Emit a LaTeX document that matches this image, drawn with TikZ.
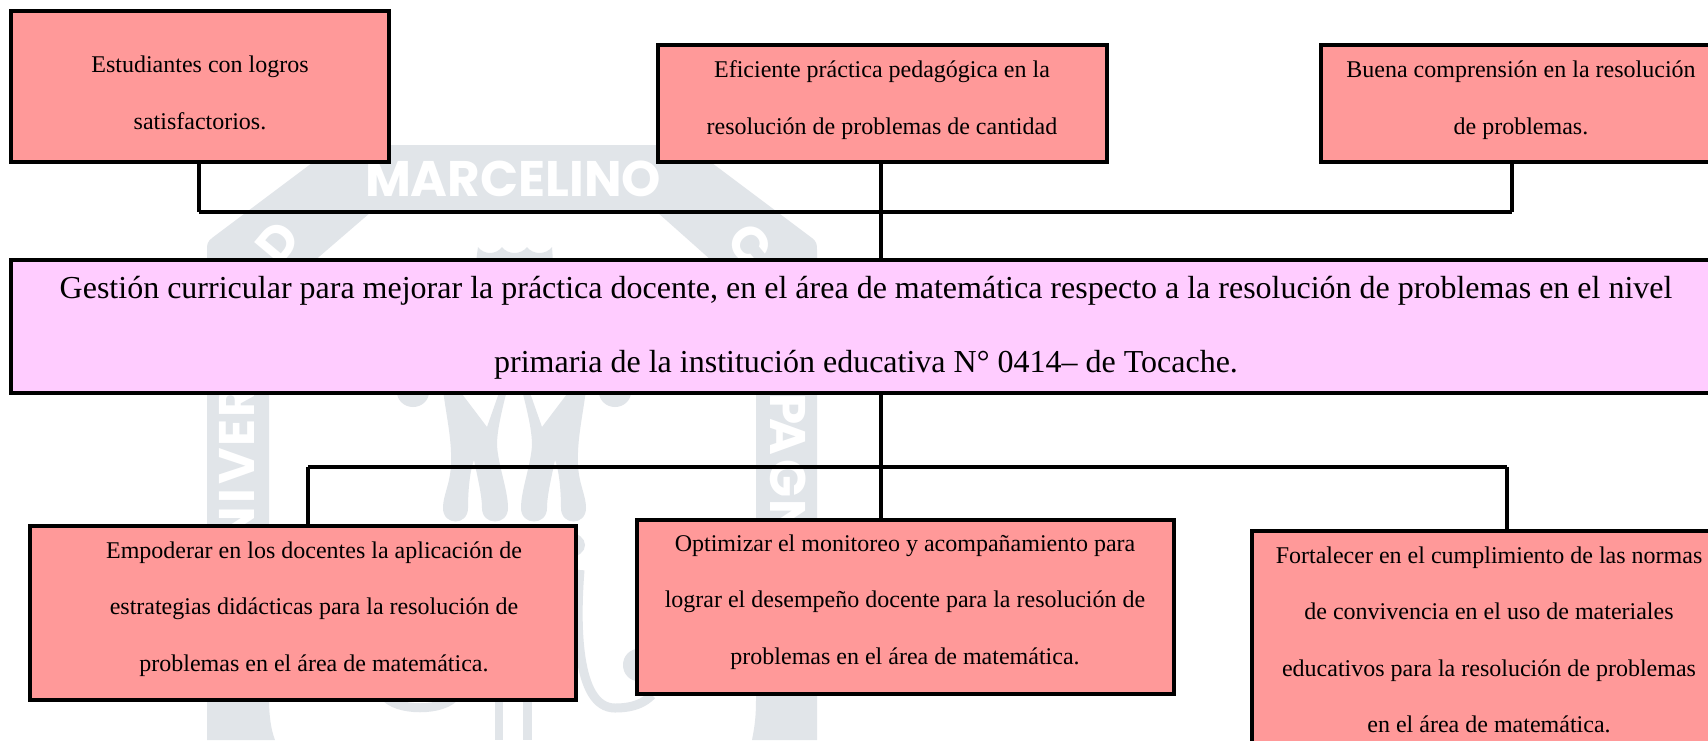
\documentclass[tikz,border=0pt]{standalone}
\usepackage{fontspec}
\setmainfont{Liberation Serif}
\newfontfamily\wmfont{Poppins}
\definecolor{salmonbox}{HTML}{FF9999}
\definecolor{pinkbox}{HTML}{FFCCFF}
\definecolor{wm}{HTML}{E1E5E9}
\tikzset{
  x=1pt,y=-1pt,
  boxa/.style={draw=black,line width=3.6pt,fill=salmonbox,inner sep=0pt,outer sep=0pt,rectangle},
  boxb/.style={draw=black,line width=3.6pt,fill=pinkbox,inner sep=0pt,outer sep=0pt,rectangle},
  txt/.style={align=center,inner sep=0pt,font=\fontsize{24}{56.5}\selectfont},
  bigtxt/.style={align=center,inner sep=0pt,font=\fontsize{32}{74}\selectfont},
  conn/.style={draw=black,line width=3.6pt},
  connh/.style={draw=black,line width=4.4pt},
  wmtxt/.style={white,inner sep=0pt,font=\wmfont\bfseries\fontsize{50}{50}\selectfont},
}
\newcommand{\mybox}[6]{\node[#2,minimum width=#5-#3,minimum height=#6-#4] (#1) at ({(#3+#5)/2},{(#4+#6)/2}) {};}
\begin{document}
\begin{tikzpicture}
\useasboundingbox (0,0) rectangle (1708,740);
\clip (0,0) rectangle (1708,740);
\fill[white] (0,0) rectangle (1708,740);
% watermark: shield ring
\fill[wm,even odd rule] (336,145) -- (688,145) -- (812,238) .. controls (817,242) and (817,245) .. (817,250) -- (817,700) -- (817,740) -- (752,740) .. controls (755,725) and (756,715) .. (756,700) -- (756,300) -- (657,212) -- (371,212) -- (269,300) -- (269,700) .. controls (269,715) and (271,730) .. (275,740) -- (207,740) -- (207,250) .. controls (207,245) and (207,242) .. (212,238) -- cycle;
\node[wmtxt] (wmm) at (513,179) {MARCELINO};
\node[wmtxt,rotate=50] (wmd) at (278,242) {D};
\node[wmtxt,rotate=-50] (wmc) at (750,245) {C};
\node[wmtxt,rotate=90] (wmr) at (237,401) {R};
\node[wmtxt,rotate=90] (wme) at (237,433) {E};
\node[wmtxt,rotate=90] (wmv) at (237,466) {V};
\node[wmtxt,rotate=90] (wmi) at (237,496) {I};
\node[wmtxt,rotate=90] (wmn) at (237,526) {N};
\node[wmtxt,rotate=-90] (wmp) at (788,409) {P};
\node[wmtxt,rotate=-90] (wma) at (788,437) {A};
\node[wmtxt,rotate=-90] (wmg) at (788,479) {G};
\node[wmtxt,rotate=-90] (wmnn) at (788,518) {N};
% crown
\fill[wm] (476,262) -- (478,247) .. controls (484,255) and (496,255) .. (502,247) .. controls (508,255) and (521,255) .. (527,247) .. controls (533,255) and (546,255) .. (552,247) -- (553,262) -- cycle;
% palm
\fill[wm] (443,390) .. controls (447,420) and (452,440) .. (451,465) .. controls (450,485) and (443,495) .. (443,508) .. controls (443,526) and (468,526) .. (468,508) .. controls (468,490) and (470,470) .. (474,460) .. controls (477,475) and (482,495) .. (482,508) .. controls (482,526) and (508,526) .. (508,508) .. controls (508,490) and (498,465) .. (497,445) .. controls (497,430) and (502,410) .. (507,390) -- (500,390) -- (487,427) -- (459,390) -- cycle;
\fill[wm] (586,390) .. controls (582,420) and (577,440) .. (578,465) .. controls (579,485) and (586,495) .. (586,508) .. controls (586,526) and (561,526) .. (561,508) .. controls (561,490) and (559,470) .. (555,460) .. controls (552,475) and (547,495) .. (547,508) .. controls (547,526) and (521,526) .. (521,508) .. controls (521,490) and (531,465) .. (532,445) .. controls (532,430) and (527,410) .. (522,390) -- (529,390) -- (542,427) -- (570,390) -- cycle;
\fill[wm] (413,392) ellipse [x radius=16,y radius=15];
\fill[wm] (615,392) ellipse [x radius=16,y radius=15];
\fill[wm] (570,545) ellipse [x radius=15,y radius=12];
\fill[wm] (638,665) ellipse [x radius=15,y radius=16];
\draw[wm,line width=9pt] (384,695) .. controls (395,712) and (445,712) .. (456,695);
\draw[wm,line width=9pt] (580,570) .. controls (576,620) and (575,708) .. (615,708) .. controls (635,708) and (645,702) .. (652,695);
\draw[wm,line width=8pt] (499,695) -- (499,740);
\draw[wm,line width=9pt] (527,695) -- (527,740);
% boxes
\mybox{b1}{boxa}{11}{11}{389}{162}
\mybox{b2}{boxa}{658}{45}{1107}{162}
\mybox{b3}{boxa}{1321}{45}{1730}{162}
\mybox{p}{boxb}{11}{260}{1730}{393}
\mybox{b4}{boxa}{30}{526}{576}{700}
\mybox{b5}{boxa}{637}{520}{1174}{694}
\mybox{b6}{boxa}{1252}{531}{1730}{770}
% connector junctions
\coordinate (tl) at (199,212);
\coordinate (tc) at (881,212);
\coordinate (tr) at (1512,212);
\coordinate (bl) at (308,467);
\coordinate (bc) at (881,467);
\coordinate (br) at (1507,467);
\draw[conn] (tl |- b1.south) -- (tl);
\draw[conn] (tr |- b3.south) -- (tr);
\draw[connh] (tl) -- (tr);
\draw[conn] (tc |- b2.south) -- (tc |- p.north);
\draw[conn] (bc |- p.south) -- (bc |- b5.north);
\draw[connh] (bl) -- (br);
\draw[conn] (bl) -- (bl |- b4.north);
\draw[conn] (br) -- (br |- b6.north);
% texts
\node[txt] (t1) at (200,93) {Estudiantes con logros\\satisfactorios.};
\node[txt] (t2) at (882,100) {Eficiente práctica pedagógica en la\\resolución de problemas de cantidad};
\node[txt] (t3) at (1521,100) {Buena comprensión en la resolución\\de problemas.};
\node[bigtxt] (t4) at (866,328) {Gestión curricular para mejorar la práctica docente, en el área de matemática respecto a la resolución de problemas en el nivel\\primaria de la institución educativa N° 0414– de Tocache.};
\node[txt] (t5) at (314,609) {Empoderar en los docentes la aplicación de\\estrategias didácticas para la resolución de\\problemas en el área de matemática.};
\node[txt] (t6) at (905,602) {Optimizar el monitoreo y acompañamiento para\\lograr el desempeño docente para la resolución de\\problemas en el área de matemática.};
\node[txt] (t7) at (1489,640) {Fortalecer en el cumplimiento de las normas\\de convivencia en el uso de materiales\\educativos para la resolución de problemas\\en el área de matemática.};
\end{tikzpicture}
\end{document}
